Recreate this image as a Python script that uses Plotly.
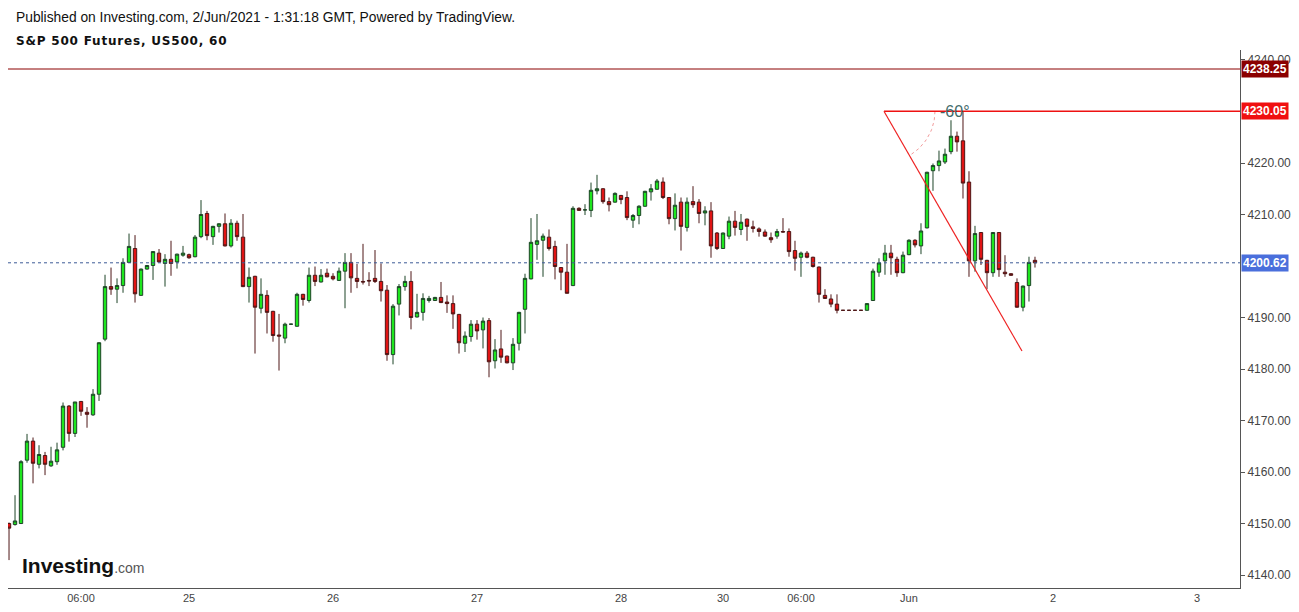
import math
import plotly.graph_objects as go

# ---------------- data (hourly bars, index = bar number) ----------------
opens = [4150.0,4149.8,4150.0,4162.3,4166.0,4161.5,4163.2,4161.2,4162.0,4164.8,
         4172.8,4167.5,4173.7,4171.6,4171.1,4175.1,4185.8,4196.0,4195.5,4196.2,
         4200.7,4203.4,4194.3,4199.4,4200.1,4202.5,4200.5,4201.3,4200.8,4202.1,
         4202.2,4201.8,4205.7,4210.2,4205.7,4207.7,4208.2,4203.9,4208.3,4205.6,
         4196.0,4198.0,4191.8,4194.3,4191.2,4186.6,4186.0,4188.7,4188.3,4194.5,
         4193.3,4198.2,4196.9,4198.6,4198.0,4197.2,4199.0,4200.7,4197.6,4197.0,
         4197.2,4197.6,4197.0,4195.3,4182.8,4192.6,4196.0,4197.0,4190.1,4191.0,
         4193.3,4193.3,4193.9,4193.0,4192.7,4190.6,4185.0,4186.3,4188.7,4187.6,
         4189.4,4181.6,4183.9,4182.5,4181.2,4185.0,4191.6,4197.5,4204.2,4205.0,
         4205.6,4203.8,4199.7,4198.8,4196.2,4211.2,4210.9,4210.8,4214.6,4215.0,
         4212.5,4212.4,4213.7,4213.3,4208.9,4209.8,4211.6,4214.4,4214.9,4216.3,
         4213.3,4209.2,4212.4,4207.5,4212.5,4212.4,4210.3,4210.7,4206.4,4203.4,
         4205.8,4208.7,4207.1,4209.1,4207.6,4207.2,4206.6,4205.5,4205.8,4206.7,
         4206.7,4203.0,4201.7,4202.5,4201.7,4199.8,4194.3,4193.6,4192.6,4191.4,
         4191.4,4191.4,4191.4,4191.4,4193.3,4198.8,4201.0,4202.5,4201.3,4198.7,
         4202.2,4205.0,4203.9,4207.4,4218.5,4219.5,4220.2,4222.2,4225.2,4224.3,
         4216.3,4201.0,4206.5,4201.1,4198.7,4206.5,4198.8,4198.5,4196.8,4192.0,
         4196.2,4201.1]
highs = [4150.2,4155.5,4162.3,4167.4,4166.7,4165.2,4163.9,4164.9,4165.7,4173.5,
         4173.0,4173.6,4173.8,4172.6,4176.1,4185.2,4198.3,4199.7,4197.6,4201.5,
         4206.3,4206.0,4199.5,4200.2,4202.8,4203.3,4202.3,4204.9,4202.4,4203.9,
         4202.4,4206.0,4212.8,4210.7,4207.8,4208.3,4210.2,4209.1,4208.8,4210.1,
         4199.7,4198.1,4197.6,4195.3,4191.3,4190.7,4189.0,4188.8,4194.8,4194.6,
         4199.7,4199.9,4199.4,4199.5,4198.6,4199.7,4202.5,4202.5,4200.4,4204.3,
         4198.8,4203.1,4200.5,4196.3,4192.6,4196.5,4198.1,4199.0,4194.6,4194.7,
         4194.2,4194.0,4196.9,4194.3,4194.3,4190.7,4187.3,4189.5,4189.5,4190.0,
         4189.9,4185.8,4187.6,4182.6,4186.0,4191.1,4198.5,4209.3,4210.1,4206.3,
         4207.1,4204.9,4199.8,4204.3,4211.6,4211.4,4212.0,4216.2,4217.7,4215.1,
         4213.3,4214.3,4213.8,4214.5,4210.1,4211.8,4214.6,4215.9,4216.9,4217.2,
         4213.4,4214.1,4213.3,4213.3,4215.5,4213.0,4211.6,4212.4,4206.6,4206.5,
         4209.6,4210.7,4210.1,4209.2,4208.8,4207.5,4207.1,4206.5,4207.2,4209.3,
         4207.3,4204.9,4202.8,4202.9,4201.8,4199.9,4195.5,4194.5,4194.5,4191.4,
         4191.4,4191.4,4191.4,4192.8,4199.5,4201.5,4204.1,4204.1,4201.8,4202.8,
         4205.2,4205.2,4208.3,4218.3,4219.9,4222.4,4222.8,4228.3,4226.1,4230.05,
         4218.4,4207.8,4206.6,4201.2,4206.6,4206.6,4202.1,4198.6,4197.6,4196.2,
         4201.8,4201.8]
lows = [4142.9,4149.6,4149.9,4161.8,4157.8,4160.7,4159.4,4161.0,4161.4,4164.2,
        4165.9,4166.8,4170.9,4168.6,4170.9,4173.8,4185.4,4194.4,4192.8,4194.8,
        4200.6,4192.9,4194.2,4199.3,4197.3,4200.7,4196.0,4198.1,4199.5,4201.8,
        4201.4,4201.7,4205.4,4205.0,4204.1,4206.5,4203.8,4203.6,4204.9,4195.9,
        4192.9,4183.0,4190.8,4186.9,4185.3,4179.7,4185.0,4188.6,4188.2,4192.3,
        4192.9,4196.1,4196.8,4197.8,4197.2,4197.1,4191.8,4194.8,4195.7,4196.4,
        4196.1,4196.7,4193.1,4181.6,4180.9,4190.4,4195.2,4187.7,4190.0,4189.4,
        4192.9,4193.2,4192.8,4190.9,4187.8,4183.0,4183.3,4185.3,4185.7,4184.0,
        4178.4,4180.1,4181.2,4181.1,4179.8,4183.6,4186.9,4197.4,4201.2,4197.9,
        4203.0,4197.4,4195.3,4194.7,4196.1,4210.7,4209.9,4209.5,4213.9,4212.1,
        4210.6,4212.3,4212.0,4208.9,4207.4,4208.1,4211.5,4212.7,4214.8,4213.0,
        4208.1,4206.9,4203.0,4206.7,4211.3,4208.3,4207.9,4201.6,4203.1,4203.3,
        4205.2,4205.9,4206.0,4204.9,4206.5,4205.7,4205.7,4204.5,4205.3,4206.5,
        4201.8,4199.1,4197.9,4201.5,4199.7,4192.9,4193.6,4192.0,4190.8,4191.4,
        4191.4,4191.4,4191.4,4191.3,4193.2,4197.9,4198.3,4198.3,4197.9,4198.6,
        4202.1,4203.6,4202.3,4207.3,4214.6,4218.4,4219.8,4221.7,4222.2,4213.1,
        4197.9,4198.9,4200.2,4195.5,4197.9,4197.9,4197.9,4198.1,4191.9,4191.2,
        4193.1,4199.7]
closes = [4149.1,4150.5,4162.0,4166.0,4161.7,4163.4,4161.5,4162.1,4164.3,4172.8,
          4167.5,4173.6,4171.8,4171.2,4175.1,4185.1,4196.0,4195.5,4196.2,4200.7,
          4203.8,4194.6,4199.4,4200.1,4202.8,4200.8,4201.3,4200.5,4202.3,4202.5,
          4201.6,4205.6,4210.0,4205.9,4207.7,4208.2,4203.9,4208.3,4205.7,4196.0,
          4197.8,4192.0,4194.5,4191.0,4186.5,4186.4,4188.7,4188.7,4194.5,4193.5,
          4198.2,4197.0,4198.2,4197.9,4197.5,4199.0,4200.7,4197.7,4197.0,4196.9,
          4197.1,4197.0,4195.2,4182.8,4192.2,4196.0,4197.0,4190.0,4191.0,4193.7,
          4193.7,4193.9,4192.9,4192.7,4190.7,4185.1,4186.4,4188.7,4187.4,4189.3,
          4181.4,4183.7,4182.3,4181.2,4184.8,4191.0,4197.6,4204.6,4204.9,4205.8,
          4203.4,4199.9,4198.8,4194.7,4211.2,4210.8,4210.9,4214.7,4215.0,4212.5,
          4211.9,4214.1,4212.9,4209.4,4209.8,4211.6,4214.5,4215.0,4216.5,4213.3,
          4209.2,4211.8,4207.7,4212.4,4211.9,4210.2,4210.7,4203.9,4203.4,4206.4,
          4208.7,4207.5,4208.5,4207.7,4207.3,4206.7,4205.8,4205.1,4206.7,4206.6,
          4202.8,4201.5,4202.5,4201.7,4199.9,4194.5,4193.7,4192.6,4191.4,4191.4,
          4191.4,4191.4,4191.4,4192.7,4199.0,4200.6,4202.5,4201.6,4198.7,4202.1,
          4205.0,4204.1,4206.8,4218.2,4219.5,4220.4,4221.7,4225.2,4224.1,4216.1,
          4201.0,4206.3,4201.3,4198.7,4206.5,4199.3,4198.5,4198.2,4192.0,4196.1,
          4200.7,4200.62]
bars = list(range(len(closes)))

tick_bars = [12, 30, 54, 78, 102, 119, 132, 150, 174, 198]
tick_labels = ["06:00", "25", "26", "27", "28", "30", "06:00", "Jun", "2", "3"]

# 4200 and 4230 are hidden behind the price boxes in the reference
price_ticks = [4140, 4150, 4160, 4170, 4180, 4190, 4210, 4220, 4240]

prev_high = 4238.25
recent_high = 4230.05
last_price = 4200.62

# trend-angle drawing (bar, price)
angle_start = (145.83, 4230.05)
angle_end = (168.83, 4183.5)
angle_text = "-60°"

# safety: keep wicks enclosing bodies
highs = [max(h, o, c) for h, o, c in zip(highs, opens, closes)]
lows = [min(l, o, c) for l, o, c in zip(lows, opens, closes)]

# ---------------- layout geometry ----------------
W, H = 1299, 612
ML, MR, MT, MB = 8, 59, 50, 24
PW, PH = W - ML - MR, H - MT - MB
x_range = [-0.17, 205.17]
y_range = [4137.48, 4241.94]
px_per_x = PW / (x_range[1] - x_range[0])
px_per_y = PH / (y_range[1] - y_range[0])

def paper_x(px):
    return (px - ML) / PW

def paper_y(py):
    return (H - MB - py) / PH

FONT = "Liberation Sans, Arial, sans-serif"
WIDE_FONT = "DejaVu Sans, Verdana, sans-serif"

fig = go.Figure()

fig.add_trace(go.Candlestick(
    x=bars, open=opens, high=highs, low=lows, close=closes,
    increasing=dict(line=dict(color="#1d4427", width=1), fillcolor="#1ee61e"),
    decreasing=dict(line=dict(color="#4e1616", width=1), fillcolor="#e01414"),
    whiskerwidth=0, hoverinfo="skip", showlegend=False,
))

# dotted arc of the angle tool
r_px = 51
arc_x, arc_y = [], []
for k in range(0, 61, 3):
    a = math.radians(k)
    arc_x.append(angle_start[0] + r_px * math.cos(a) / px_per_x)
    arc_y.append(angle_start[1] - r_px * math.sin(a) / px_per_y)
fig.add_trace(go.Scatter(x=arc_x, y=arc_y, mode="lines",
                         line=dict(color="#f29a9a", width=1, dash="dot"),
                         hoverinfo="skip", showlegend=False))

shapes = [
    dict(type="line", xref="paper", yref="y", x0=0, x1=1, y0=prev_high, y1=prev_high,
         line=dict(color="#8b0000", width=1)),
    dict(type="line", xref="x", yref="y", x0=angle_start[0], x1=x_range[1],
         y0=recent_high, y1=recent_high, line=dict(color="#ee1111", width=1.3)),
    dict(type="line", xref="paper", yref="y", x0=0, x1=1, y0=last_price, y1=last_price,
         line=dict(color="#3d5a96", width=1, dash="dot")),
    dict(type="line", xref="x", yref="y", x0=angle_start[0], y0=angle_start[1],
         x1=angle_end[0], y1=angle_end[1], line=dict(color="#ee2222", width=1.2)),
]

annotations = [
    dict(xref="paper", yref="paper", x=paper_x(14), y=paper_y(17), xanchor="left",
         yanchor="middle", showarrow=False,
         text="Published on Investing.com, 2/Jun/2021 - 1:31:18 GMT, Powered by TradingView.",
         font=dict(family=FONT, size=13.8, color="#111")),
    dict(xref="paper", yref="paper", x=paper_x(14), y=paper_y(41), xanchor="left",
         yanchor="middle", showarrow=False,
         text="<b><span style='letter-spacing:0.8px'>S&P 500 Futures, US500, 60</span></b>",
         font=dict(family=WIDE_FONT, size=12, color="#111")),
    dict(xref="paper", yref="paper", x=paper_x(20), y=paper_y(565), xanchor="left",
         yanchor="middle", showarrow=False,
         text="<b>Investing</b><span style='font-size:14px;color:#555'>.com</span>",
         font=dict(family=FONT, size=21, color="#111")),
    dict(xref="x", yref="y", x=angle_start[0] + 71 / px_per_x, y=recent_high,
         xanchor="center", yanchor="middle", showarrow=False, text=angle_text,
         font=dict(family=FONT, size=16, color="#3f6b6b")),
]
for val, bg in [(prev_high, "#8b0000"), (recent_high, "#f01010"), (last_price, "#4a6fdc")]:
    annotations.append(dict(
        xref="paper", yref="y", x=1, xshift=1, y=val, xanchor="left", yanchor="middle",
        showarrow=False, text="<b>%.2f</b>" % val, bgcolor=bg, borderpad=1,
        font=dict(family=FONT, size=12, color="white")))

fig.update_layout(
    width=W, height=H,
    margin=dict(l=ML, r=MR, t=MT, b=MB),
    paper_bgcolor="white", plot_bgcolor="white",
    showlegend=False, boxgap=0.2,
    shapes=shapes, annotations=annotations,
    xaxis=dict(range=x_range, rangeslider=dict(visible=False), showgrid=False,
               zeroline=False, showline=True, linecolor="#555", linewidth=1,
               tickmode="array", tickvals=tick_bars, ticktext=tick_labels,
               ticks="", tickfont=dict(family=FONT, size=11, color="#444")),
    yaxis=dict(range=y_range, side="right", showgrid=False, zeroline=False,
               showline=True, linecolor="#555", linewidth=1,
               tickmode="array", tickvals=price_ticks,
               ticktext=["%.2f" % v for v in price_ticks],
               ticks="outside", ticklen=4, tickcolor="#555",
               tickfont=dict(family=FONT, size=12, color="#444")),
)

fig.write_html("out.html")
